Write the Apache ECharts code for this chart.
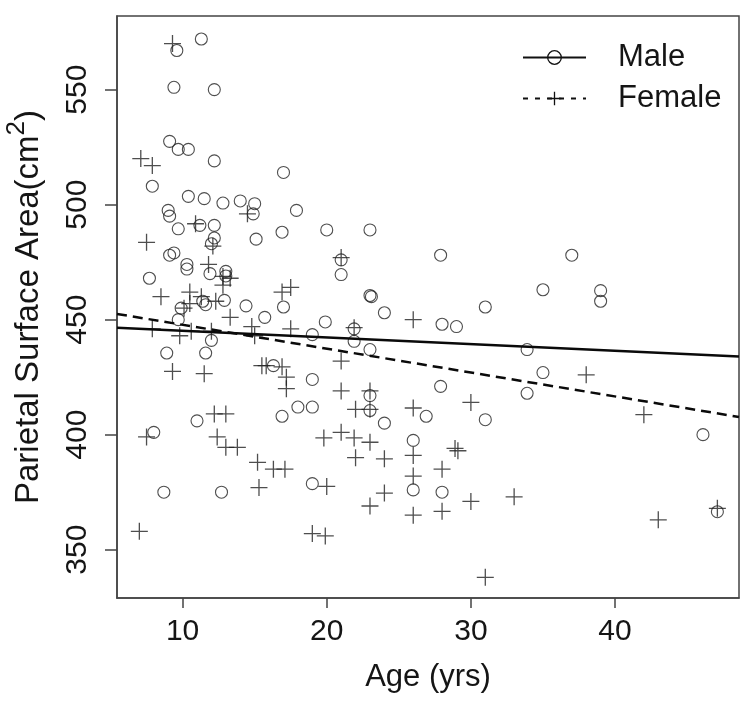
<!DOCTYPE html>
<html><head><meta charset="utf-8">
<script src="https://cdn.jsdelivr.net/npm/echarts@6/dist/echarts.min.js"></script>
<style>html,body{margin:0;padding:0;background:#fff}#c{width:750px;height:701px}</style>
</head><body><div id="c"></div>
<script>
// Male observations [age, area]
const maleData = [
  [9.6,567],[11.3,572],[9.4,551],[12.2,550],[9.1,527.5],[9.7,524],[10.4,524],[12.2,519],
  [7.9,508],[17.0,514],[10.4,503.6],[11.5,502.6],[12.8,500.7],[14.0,501.6],[15.0,500.4],
  [14.9,496],[17.9,497.5],[9.0,497.5],[9.1,495],[9.7,489.5],[11.2,491],[12.2,491],[16.9,488],
  [20.0,489],[12.2,485.5],[12.0,483],[15.1,485],[9.4,479],[9.1,478],[10.3,474],[10.3,472],
  [13.0,469],[13.0,471],[11.9,470],[7.7,468],[11.4,458],[11.6,456.5],[12.9,458.4],[9.9,455],
  [9.7,450],[14.4,456],[15.7,451],[17.0,455.5],[19.9,449],[12.0,441],[19.0,443.5],[8.9,435.5],
  [11.6,435.5],[16.3,430],[19.0,424],[18.0,412],[19.0,412],[16.9,408],[11.0,406],[8.0,401],
  [8.7,375],[12.7,375],[19.0,378.7],
  [23.0,489],[21.0,476],[21.0,469.6],[27.9,478],[23.0,460.5],[23.1,460],[24.0,453],[28.0,448],
  [29.0,447],[31.0,455.5],[21.9,446],[21.9,440.6],[23.0,437],[33.9,437],[23.0,417],[27.9,421],
  [33.9,418],[23.0,410.5],[26.9,408],[31.0,406.5],[24.0,405],[26.0,397.5],[26.0,376],[28.0,375],
  [37.0,478],[35.0,463],[39.0,462.6],[39.0,458],[35.0,427],[46.1,400],[47.1,366.5]
];
// Female observations [age, area]
const femaleData = [
  [9.3,570],[7.1,520],[7.9,517],[14.5,496],[10.9,491.7],[12.1,482],[7.5,483.6],[11.8,474],
  [12.8,468.8],[13.3,468],[12.8,465],[8.5,460],[10.5,462],[11.3,460],[10.5,457],[12.3,458],
  [13.3,451],[10.1,455],[17.5,464],[16.9,462],[7.9,446],[9.8,443],[10.6,445],[12.0,445],
  [14.8,447],[15.0,443],[17.5,446],[9.3,427.5],[11.5,426.5],[15.5,430],[15.8,430],[16.9,429.5],
  [17.2,425],[17.2,420],[12.2,409],[13.0,409],[7.5,399],[12.4,399],[13.0,394.5],[13.8,394.5],
  [19.8,398.6],[15.2,388],[16.3,385],[17.1,385],[15.3,377],[20.0,377.5],[7.0,358],[19.0,357],
  [19.9,356],
  [21.0,477],[26.0,450],[21.9,446.5],[21.0,432],[21.0,419],[23.0,419],[30.0,414],[22.0,411],
  [23.0,411],[26.0,411.6],[21.0,401],[21.9,398.6],[23.0,396.7],
  [28.9,394],[29.1,393],[22.0,390],[24.0,389.5],[26.0,391],[26.0,382],[26.0,365],[28.0,385],
  [28.0,366.7],[24.0,374.6],[23.0,369],[30.0,371],[33.0,373],[31.0,338],
  [38.0,426],[42.0,408.7],[43.0,363],[47.1,368]
];
// fitted regression lines (endpoints at the plot edges)
const maleFit = [[5.45,446.5],[48.6,434]];
const femaleFit = [[5.45,452.5],[48.6,407.7]];
const xTicks = [10,20,30,40];
const yTicks = [350,400,450,500,550];
const seriesNames = ['Male','Female'];
const xTitle = 'Age (yrs)';

const FONT = '"Liberation Sans", Arial, Helvetica, sans-serif';
const INK = '#151515';
const AXIS = '#444';
const plusPath = 'path://M10,0L10,20M0,10L20,10';
const clear = 'rgba(0,0,0,0)';

const chart = echarts.init(document.getElementById('c'), null, {renderer:'canvas'});
chart.setOption({
  animation:false,
  backgroundColor:'#fff',
  textStyle:{fontFamily:FONT},
  grid:{left:117,right:11,top:16,bottom:103,show:true,borderColor:AXIS,borderWidth:1.5,
        backgroundColor:clear,containLabel:false,outerBoundsMode:'none'},
  legend:{
    orient:'vertical', left:522, top:42, padding:0, itemWidth:63, itemHeight:17, itemGap:10,
    textStyle:{fontSize:31,color:INK,fontFamily:FONT,padding:[0,0,0,27],lineHeight:31},
    data:[
      {name:seriesNames[0], itemStyle:{color:clear,borderColor:'#111',borderWidth:1.3},
       lineStyle:{color:'#111',width:2,type:'solid'}},
      {name:seriesNames[1], itemStyle:{color:clear,borderColor:'#111',borderWidth:1.3},
       lineStyle:{color:'#111',width:2,type:[5,7]}}
    ]
  },
  xAxis:{
    type:'value', min:5.45, max:48.6,
    name:xTitle, nameLocation:'middle', nameGap:64, nameMoveOverlap:false,
    nameTextStyle:{fontSize:31,color:INK,fontFamily:FONT},
    axisLine:{show:true,lineStyle:{color:AXIS,width:1.5}},
    axisTick:{show:true,length:10,customValues:xTicks,lineStyle:{color:AXIS,width:1.5}},
    axisLabel:{customValues:xTicks,fontSize:30,color:INK,margin:19,fontFamily:FONT},
    splitLine:{show:false}
  },
  yAxis:{
    type:'value', min:329, max:582,
    name:'{a|Parietal Surface Area(cm}{s|2}{a|)}', nameLocation:'middle', nameGap:72, nameMoveOverlap:false,
    nameTextStyle:{fontSize:33,color:INK,fontFamily:FONT,
      rich:{a:{fontSize:33,color:INK,fontFamily:FONT,padding:[8,0,0,0]},
            s:{fontSize:26,color:INK,fontFamily:FONT,verticalAlign:'top'}}},
    axisLine:{show:true,lineStyle:{color:AXIS,width:1.5}},
    axisTick:{show:true,length:12,customValues:yTicks,lineStyle:{color:AXIS,width:1.5}},
    axisLabel:{customValues:yTicks,fontSize:30,color:INK,margin:24,rotate:90,fontFamily:FONT},
    splitLine:{show:false}
  },
  series:[
    {name:seriesNames[0], type:'line', data:maleFit, showSymbol:false, symbol:'circle', z:4,
     itemStyle:{color:clear,borderColor:'#111',borderWidth:1.3},
     lineStyle:{color:'#0a0a0a',width:2.5,type:'solid'}, silent:true},
    {name:seriesNames[1], type:'line', data:femaleFit, showSymbol:false, symbol:plusPath, z:4,
     itemStyle:{color:clear,borderColor:'#111',borderWidth:1.3},
     lineStyle:{color:'#0a0a0a',width:2.5,type:[10,6]}, silent:true},
    {name:seriesNames[0], type:'scatter', data:maleData, symbol:'circle', symbolSize:12, z:2,
     itemStyle:{color:clear,borderColor:'#222',borderWidth:1.1}, silent:true},
    {name:seriesNames[1], type:'scatter', data:femaleData, symbol:plusPath, symbolSize:17, z:2,
     itemStyle:{color:clear,borderColor:'#222',borderWidth:1.3}, silent:true}
  ]
});
</script></body></html>
